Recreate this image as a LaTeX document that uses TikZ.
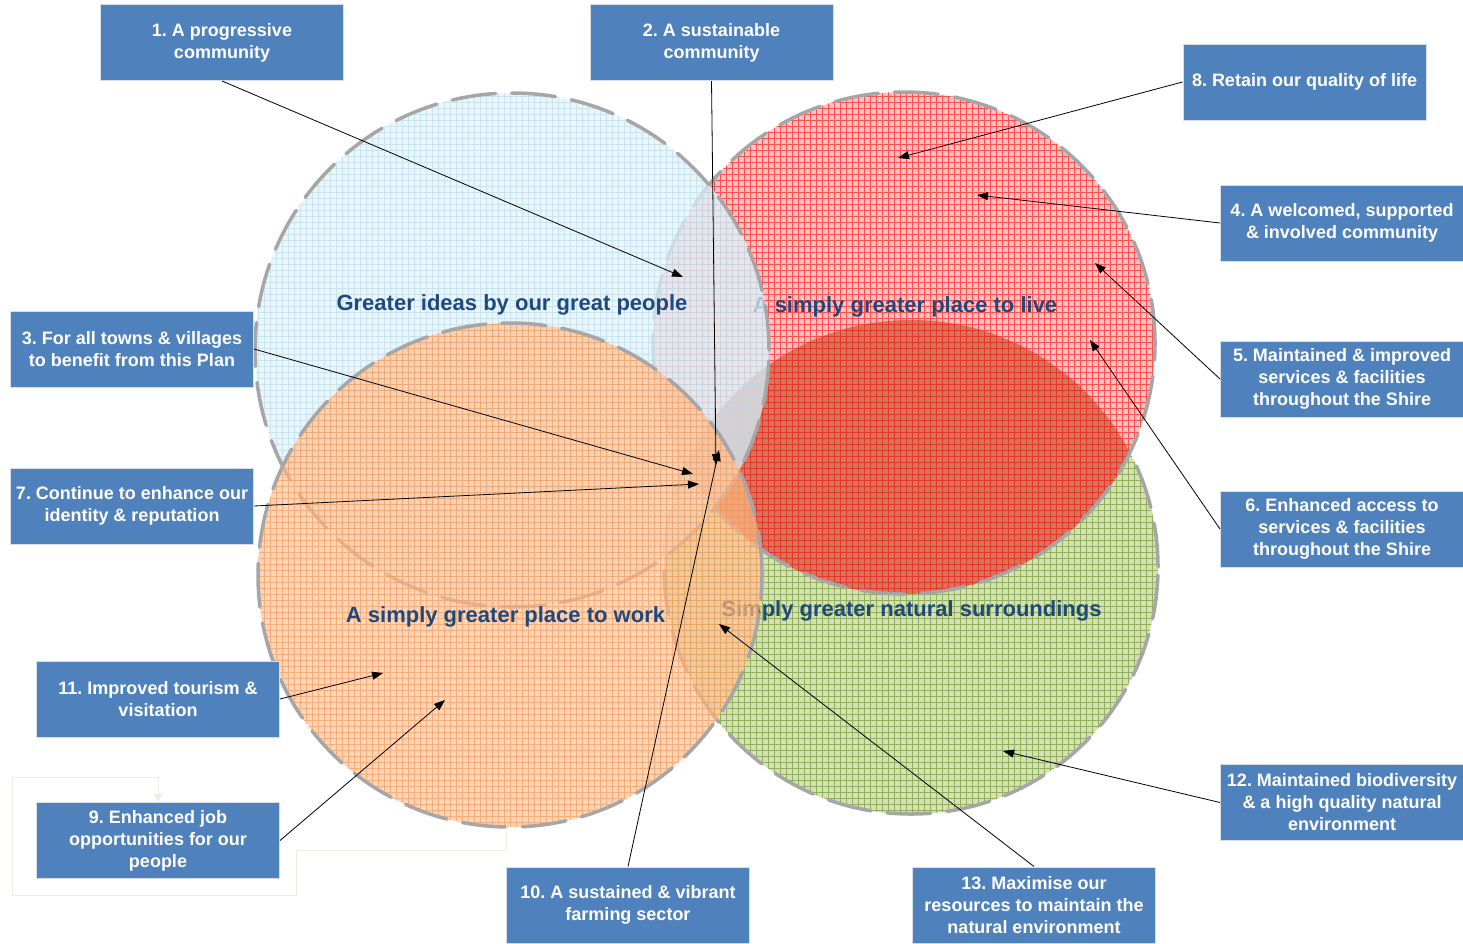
\documentclass[tikz,border=0pt]{standalone}
\usepackage{fontspec}
\setmainfont{Liberation Sans}
\usetikzlibrary{arrows.meta}
\definecolor{boxblue}{HTML}{4F81BD}
\definecolor{boxedge}{HTML}{D9DEE6}
\definecolor{labelblue}{HTML}{1F497D}
\definecolor{ringgray}{HTML}{A6A6A6}
\definecolor{bluefill}{HTML}{E4F3F9}
\definecolor{bluegrid}{HTML}{BCDDEA}
\definecolor{redfill}{HTML}{FFB8B8}
\definecolor{redgrid}{HTML}{FF3B3B}
\definecolor{lensfill}{HTML}{D0704F}
\definecolor{lensgrid}{HTML}{E8302A}
\definecolor{orangefill}{HTML}{F9C096}
\definecolor{orangegrid}{HTML}{F29A58}
\definecolor{greenfill}{HTML}{D3E0B8}
\definecolor{greengrid}{HTML}{92AF5A}
\definecolor{faint}{HTML}{ECECE4}
\newcommand\venndisc[6]{%
  \begin{scope}
    \clip (#1,#2) circle[radius=#3pt];
    \fill[#4, opacity=#6] ({#1-#3},{#2-#3}) rectangle ({#1+#3},{#2+#3});
    \draw[#5, line width=0.7pt, opacity=#6, step=6pt] ({#1-#3},{#2-#3}) grid ({#1+#3},{#2+#3});
  \end{scope}}
\tikzset{
  goalbox/.style={rectangle, fill=boxblue, draw=boxedge, line width=1pt,
    minimum width=243pt, minimum height=76pt, inner sep=0pt, align=center,
    text=white, font=\frenchspacing\bfseries\fontsize{18}{22}\selectfont},
  ptr/.style={-{Triangle[length=11pt,width=8pt]}, line width=0.8pt, black},
  ring/.style={draw=ringgray, line width=3.5pt, dash pattern=on 44pt off 16pt, line cap=round},
  circlabel/.style={text=labelblue, font=\bfseries\fontsize{22}{26}\selectfont, inner sep=0pt},
}
\begin{document}
\begin{tikzpicture}[x=1pt,y=-1pt]
\useasboundingbox (0,0) rectangle (1463,943);
\fill[white] (0,0) rectangle (1463,943);
% green circle
\venndisc{911}{567}{247}{greenfill}{greengrid}{1}
\draw[ring] (911,567) circle[radius=247pt];
\node[circlabel] (lgreen) at (911.5,611) {Simply greater natural surroundings};
% red circle
\venndisc{904}{343}{251}{redfill}{redgrid}{0.85}
\begin{scope}
  \clip (911,567) circle[radius=247pt];
  \venndisc{904}{343}{251}{lensfill}{lensgrid}{0.9}
\end{scope}
\draw[ring] (904,343) circle[radius=251pt];
\node[circlabel] (lred) at (905,307) {A simply greater place to live};
% blue circle
\venndisc{512}{350}{257}{bluefill}{bluegrid}{0.7}
\draw[ring] (512,350) circle[radius=257pt];
\node[circlabel] (lblue) at (512,305) {Greater ideas by our great people};
% orange circle
\venndisc{510}{575}{252}{orangefill}{orangegrid}{0.65}
\draw[ring] (510,575) circle[radius=252pt];
\node[circlabel] (lorange) at (505.5,617) {A simply greater place to work};
% faint frame around box 9
\coordinate (f0) at (506,825);
\coordinate (f1) at (506,850);
\coordinate (f2) at (296,850);
\coordinate (f3) at (296,895);
\coordinate (f4) at (12,895);
\coordinate (f5) at (12,777);
\coordinate (f6) at (158,777);
% boxes
\node[goalbox] (b1) at (222,42.5) {1. A progressive\\community};
\node[goalbox] (b2) at (711.5,42.5) {2. A sustainable\\community};
\node[goalbox] (b8) at (1304.5,82) {8. Retain our quality of life};
\node[goalbox] (b4) at (1342,223) {4. A welcomed, supported\\\& involved community};
\node[goalbox] (b5) at (1342,379) {5. Maintained \& improved\\services \& facilities\\throughout the Shire};
\node[goalbox] (b6) at (1342,529) {6. Enhanced access to\\services \& facilities\\throughout the Shire};
\node[goalbox] (b12) at (1342,802.5) {12. Maintained biodiversity\\\& a high quality natural\\environment};
\node[goalbox] (b13) at (1034,905) {13. Maximise our\\resources to maintain the\\natural environment};
\node[goalbox] (b10) at (628,905) {10. A sustained \& vibrant\\farming sector};
\node[goalbox] (b9) at (158,840.5) {9. Enhanced job\\opportunities for our\\people};
\node[goalbox] (b11) at (158,699) {11. Improved tourism \&\\visitation};
\node[goalbox] (b7) at (132,506) {7. Continue to enhance our\\identity \& reputation};
\node[goalbox] (b3) at (132,349) {3. For all towns \& villages\\to benefit from this Plan};
\draw[faint, line width=1pt, -{Triangle[length=8pt,width=8pt]}]
  (f0) -- (f1) -- (f2) -- (f3) -- (f4) -- (f5) -- (f6) -- (b9.north);
% arrow tips
\coordinate (t1) at (683,277);
\coordinate (t2) at (716,465);
\coordinate (t8) at (898,158);
\coordinate (t4) at (977,195);
\coordinate (t5) at (1095,263);
\coordinate (t6) at (1090,340);
\coordinate (t3) at (693,474);
\coordinate (t7) at (699,484);
\coordinate (t12) at (1003,751);
\coordinate (t13) at (719,624);
\coordinate (t10) at (719,450);
\coordinate (t11) at (383,673);
\coordinate (t9) at (445,700);
\draw[ptr] (b1.south) -- (t1);
\draw[ptr] (b2.south) -- (t2);
\draw[ptr] (b8.west) -- (t8);
\draw[ptr] (b4.west) -- (t4);
\draw[ptr] (b5.west) -- (t5);
\draw[ptr] (b6.west) -- (t6);
\draw[ptr] (b3.east) -- (t3);
\draw[ptr] (b7.east) -- (t7);
\draw[ptr] (b12.west) -- (t12);
\draw[ptr] (b13.north) -- (t13);
\draw[ptr] (b10.north) -- (t10);
\draw[ptr] (b11.east) -- (t11);
\draw[ptr] (b9.east) -- (t9);
\end{tikzpicture}
\end{document}
